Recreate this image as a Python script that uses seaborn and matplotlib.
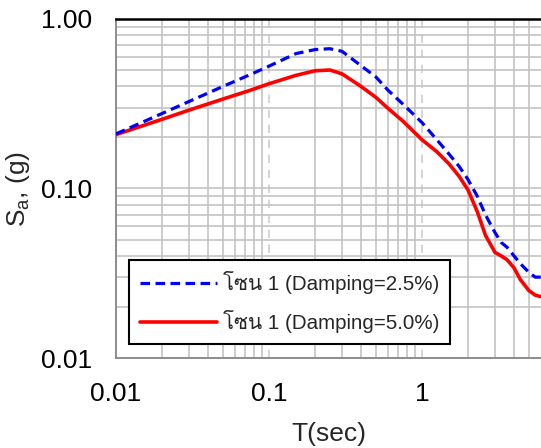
import numpy as np
import pandas as pd
import matplotlib
matplotlib.use("Agg")
import matplotlib.pyplot as plt
import matplotlib.font_manager as fm
from matplotlib.ticker import FixedLocator, FixedFormatter, NullFormatter
import seaborn as sns

# ---------------- data ----------------
period = [0.01, 0.02, 0.03, 0.05, 0.075, 0.1, 0.15, 0.2, 0.25, 0.3, 0.4, 0.5,
          0.6, 0.75, 1.0, 1.25, 1.5, 1.75, 2.0, 2.3, 2.6, 3.0, 3.3, 3.6, 4.0,
          4.4, 5.0, 5.5, 6.0]
sa_damp25 = [0.21, 0.277, 0.326, 0.40, 0.469, 0.527, 0.625, 0.66, 0.668, 0.645,
             0.53, 0.455, 0.38, 0.315, 0.245, 0.194, 0.16, 0.135, 0.113, 0.09,
             0.07, 0.055, 0.048, 0.045, 0.040, 0.036, 0.032, 0.030, 0.030]
sa_damp50 = [0.208, 0.256, 0.29, 0.337, 0.379, 0.415, 0.465, 0.495, 0.50, 0.475,
             0.40, 0.345, 0.297, 0.25, 0.194, 0.165, 0.14, 0.118, 0.098, 0.073,
             0.053, 0.042, 0.040, 0.038, 0.034, 0.029, 0.025, 0.0235, 0.023]
labels = ["โซน 1 (Damping=2.5%)", "โซน 1 (Damping=5.0%)"]
x_ticks = [0.01, 0.1, 1]
x_tick_labels = ["0.01", "0.1", "1"]
y_ticks = [0.01, 0.1, 1.0]
y_tick_labels = ["0.01", "0.10", "1.00"]

# ---------------- fonts ----------------
sns.set_style("white")


def find_thai_font():
    for fe in fm.fontManager.ttflist:
        try:
            cmap = fm.get_font(fe.fname).get_charmap()
        except Exception:
            continue
        if 0x0E42 in cmap and 0x0E0B in cmap and 0x0E19 in cmap:
            return fe.name
    return None


thai = find_thai_font()
families = ["Liberation Sans"]
if thai:
    families.append(thai)
families.append("DejaVu Sans")
plt.rcParams["font.family"] = families
plt.rcParams["mathtext.fontset"] = "custom"
plt.rcParams["mathtext.rm"] = "Liberation Sans"
plt.rcParams["mathtext.it"] = "Liberation Sans"

# ---------------- figure ----------------
fig = plt.figure(figsize=(5.41, 4.48), dpi=100)
ax = fig.add_axes([116 / 541, 90 / 448, 425 / 541, 339 / 448])

df = pd.DataFrame({"T": period * 2,
                   "Sa": sa_damp25 + sa_damp50,
                   "series": [labels[0]] * len(period) + [labels[1]] * len(period)})

sns.lineplot(data=df[df.series == labels[0]], x="T", y="Sa", ax=ax, color="#0000ff",
             lw=2.3, label=labels[0], zorder=5)
sns.lineplot(data=df[df.series == labels[1]], x="T", y="Sa", ax=ax, color="#ff0000",
             lw=2.6, label=labels[1], zorder=4)
ax.lines[0].set_dashes((3.0, 1.7))

ax.set_xscale("log")
ax.set_yscale("log")
ax.set_xlim(0.01, 6.0)
ax.set_ylim(0.01, 1.0)

# grid
grid_col = "#c3c3c3"
for v in [m * 10.0 ** e for e in (-2, -1, 0) for m in range(2, 10)]:
    if v < 6.0:
        ax.axvline(v, color=grid_col, lw=1.2, zorder=1)
for v in [0.1, 1.0]:
    ax.axvline(v, color="#cdcdcd", lw=1.2, ls=(0, (5, 4)), zorder=1)
for v in [m * 10.0 ** e for e in (-2, -1) for m in range(1, 10)]:
    if v > 0.01:
        ax.axhline(v, color=grid_col, lw=1.2, zorder=1)

ax.xaxis.set_major_locator(FixedLocator(x_ticks))
ax.xaxis.set_major_formatter(FixedFormatter(x_tick_labels))
ax.yaxis.set_major_locator(FixedLocator(y_ticks))
ax.yaxis.set_major_formatter(FixedFormatter(y_tick_labels))
ax.xaxis.set_minor_formatter(NullFormatter())
ax.yaxis.set_minor_formatter(NullFormatter())
ax.tick_params(which="minor", length=0)
ax.tick_params(which="major", direction="out", length=7, width=1.2, color="#8c8c8c",
               labelsize=19, labelcolor="black")
ax.tick_params(axis="y", pad=10)
ax.tick_params(axis="x", pad=10)

for side in ["left", "bottom"]:
    ax.spines[side].set_color("#8c8c8c")
    ax.spines[side].set_linewidth(1.4)
ax.spines["top"].set_color("black")
ax.spines["top"].set_linewidth(1.8)
ax.spines["right"].set_visible(False)

ax.set_xlabel("T(sec)", fontsize=19, labelpad=12)
ax.set_ylabel("S$_\\mathregular{a}$, (g)", fontsize=19, labelpad=7)

leg = ax.legend(loc="lower left", bbox_to_anchor=(0.031, 0.041), fontsize=14.8,
                frameon=True, fancybox=False, framealpha=1, edgecolor="black",
                handlelength=3.7, handletextpad=0.3, borderpad=0.55, labelspacing=0.75,
                borderaxespad=0)
leg.get_frame().set_linewidth(1.5)
leg.set_zorder(10)

fig.savefig("out.png", dpi=100)
